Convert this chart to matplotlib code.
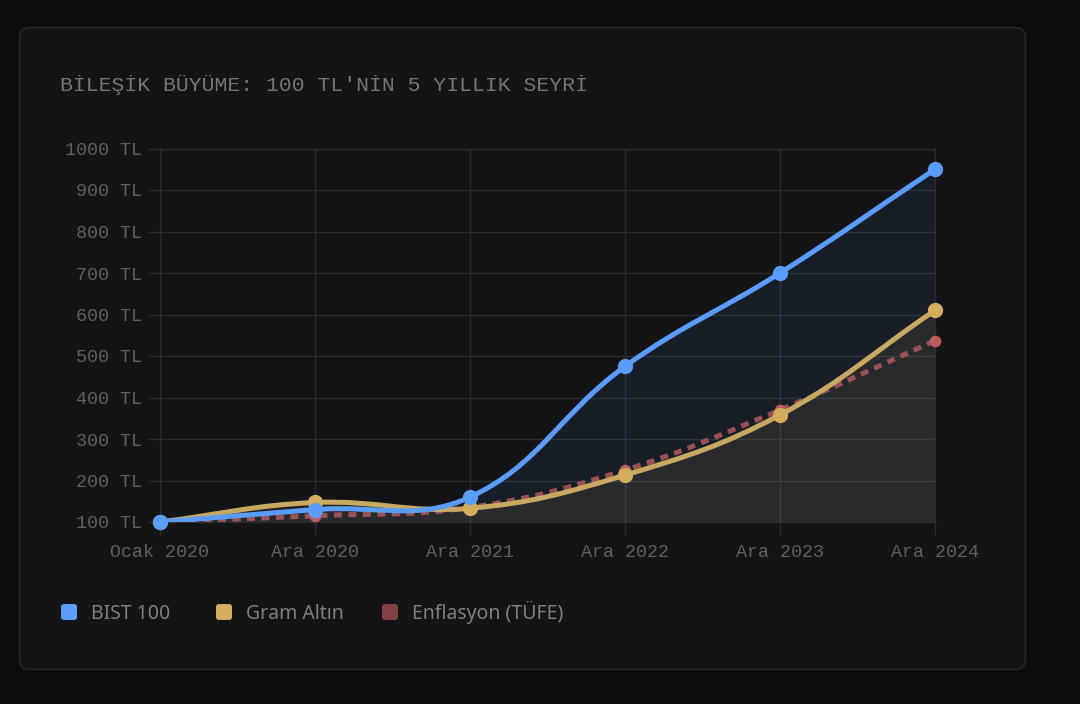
import matplotlib
matplotlib.use("Agg")
import numpy as np
import matplotlib.pyplot as plt
from matplotlib.patches import FancyBboxPatch, PathPatch
from matplotlib.path import Path

# data
donemler = ["Ocak 2020", "Ara 2020", "Ara 2021", "Ara 2022", "Ara 2023", "Ara 2024"]
bist100 = [100, 130, 160, 475, 700, 950]
gram_altin = [100, 147, 133, 213, 358, 610]
enflasyon = [100, 115, 135, 225, 370, 537]
y_ticks = [100, 200, 300, 400, 500, 600, 700, 800, 900, 1000]

MONO = "Liberation Mono"
SANS = "Noto Sans"
W, H = 1080, 704


def smooth_path(ax, xs, ys, tension=0.4, base=None):
    # bezier through the points with a fixed tension, end points included
    pts = ax.transData.transform(np.column_stack([xs, ys]))
    verts = [pts[0]]
    codes = [Path.MOVETO]
    n = len(pts)
    for i in range(n - 1):
        p0, p1 = pts[i], pts[i + 1]
        if i == 0:
            c0 = p0 + (p1 - p0) * tension
        else:
            prev = pts[i - 1]
            l0 = np.hypot(*(p0 - prev))
            l1 = np.hypot(*(p1 - p0))
            c0 = p0 + (p1 - prev) * tension * l1 / (l0 + l1)
        if i == n - 2:
            c1 = p1 - (p1 - p0) * tension
        else:
            nxt = pts[i + 2]
            l0 = np.hypot(*(p1 - p0))
            l1 = np.hypot(*(nxt - p1))
            c1 = p1 - (nxt - p0) * tension * l0 / (l0 + l1)
        verts += [c0, c1, p1]
        codes += [Path.CURVE4] * 3
    inv = ax.transData.inverted()
    verts = list(inv.transform(np.array(verts)))
    if base is not None:
        verts += [(xs[-1], base), (xs[0], base), verts[0]]
        codes += [Path.LINETO, Path.LINETO, Path.CLOSEPOLY]
    return Path(verts, codes)


fig = plt.figure(figsize=(W / 100, H / 100), dpi=100, facecolor="#0b0c0e")

# background layer in pixels: card, title, legend
bg = fig.add_axes([0, 0, 1, 1], zorder=0)
bg.set_xlim(0, W)
bg.set_ylim(H, 0)
bg.axis("off")
bg.add_patch(FancyBboxPatch((19.5, 27.5), 1006, 642, boxstyle="round,pad=0,rounding_size=10",
                            fc="#131416", ec="#26282b", lw=1.1))
bg.text(60, 85, "BİLEŞİK BÜYÜME: 100 TL'NİN 5 YILLIK SEYRİ", family=MONO, fontsize=15.4,
        color="#757575", va="center", ha="left")

legend_items = [("BIST 100", "#5b9cff", 61, 91), ("Gram Altın", "#d4ad5c", 216, 246),
                ("Enflasyon (TÜFE)", "#864242", 382, 412)]
for name, col, box_x, txt_x in legend_items:
    bg.add_patch(FancyBboxPatch((box_x, 604), 16, 16, boxstyle="round,pad=0,rounding_size=3",
                                fc=col, ec="none"))
    bg.text(txt_x, 619, name, family=SANS, fontsize=14, color="#7f7f7f", va="baseline", ha="left")

# plot area 160..935 x 148.5..522 px
ax = fig.add_axes([160 / W, 1 - 522 / H, 775 / W, 373.5 / H], zorder=1)
ax.patch.set_alpha(0)
x = np.arange(len(donemler))
ax.set_xlim(0, len(donemler) - 1)
ax.set_ylim(100, 1000)

ax.set_xticks(x, donemler)
ax.set_yticks(y_ticks, [f"{v} TL" for v in y_ticks])
ax.grid(True, color="#2a2c2f", lw=1)
ax.set_axisbelow(True)
ax.tick_params(axis="both", color="#2a2c2f", length=9, width=1, labelcolor="#5f5f5f",
               labelsize=13.2)
ax.tick_params(axis="y", pad=4)
ax.tick_params(axis="x", pad=7)
for lab in ax.get_xticklabels() + ax.get_yticklabels():
    lab.set_family(MONO)
for s in ax.spines.values():
    s.set_color("#2a2c2f")
    s.set_linewidth(1)

# filled areas
ax.add_patch(PathPatch(smooth_path(ax, x, bist100, base=100), fc="#5b9cff", alpha=0.08, ec="none", zorder=2))
ax.add_patch(PathPatch(smooth_path(ax, x, gram_altin, base=100), fc="#d4ad5c", alpha=0.09, ec="none", zorder=2))

# lines, red at the bottom, blue on top
ax.add_patch(PathPatch(smooth_path(ax, x, enflasyon), fc="none", ec="#b25a5a", lw=3.6,
                       ls=(0, (1.6, 1.3)), capstyle="butt", alpha=0.85, zorder=3))
ax.plot(x, enflasyon, ls="none", marker="o", ms=8.4, color="#bd5c5c", mec="none", zorder=3, clip_on=False)

ax.add_patch(PathPatch(smooth_path(ax, x, gram_altin), fc="none", ec="#c9a862", lw=3.6, zorder=4))
ax.plot(x, gram_altin, ls="none", marker="o", ms=11, color="#d4ad5c", mec="none", zorder=4, clip_on=False)

ax.add_patch(PathPatch(smooth_path(ax, x, bist100), fc="none", ec="#5b9cff", lw=3.6, zorder=5))
ax.plot(x, bist100, ls="none", marker="o", ms=11, color="#5b9cff", mec="none", zorder=5, clip_on=False)

fig.savefig("out.png", dpi=100, facecolor=fig.get_facecolor())
